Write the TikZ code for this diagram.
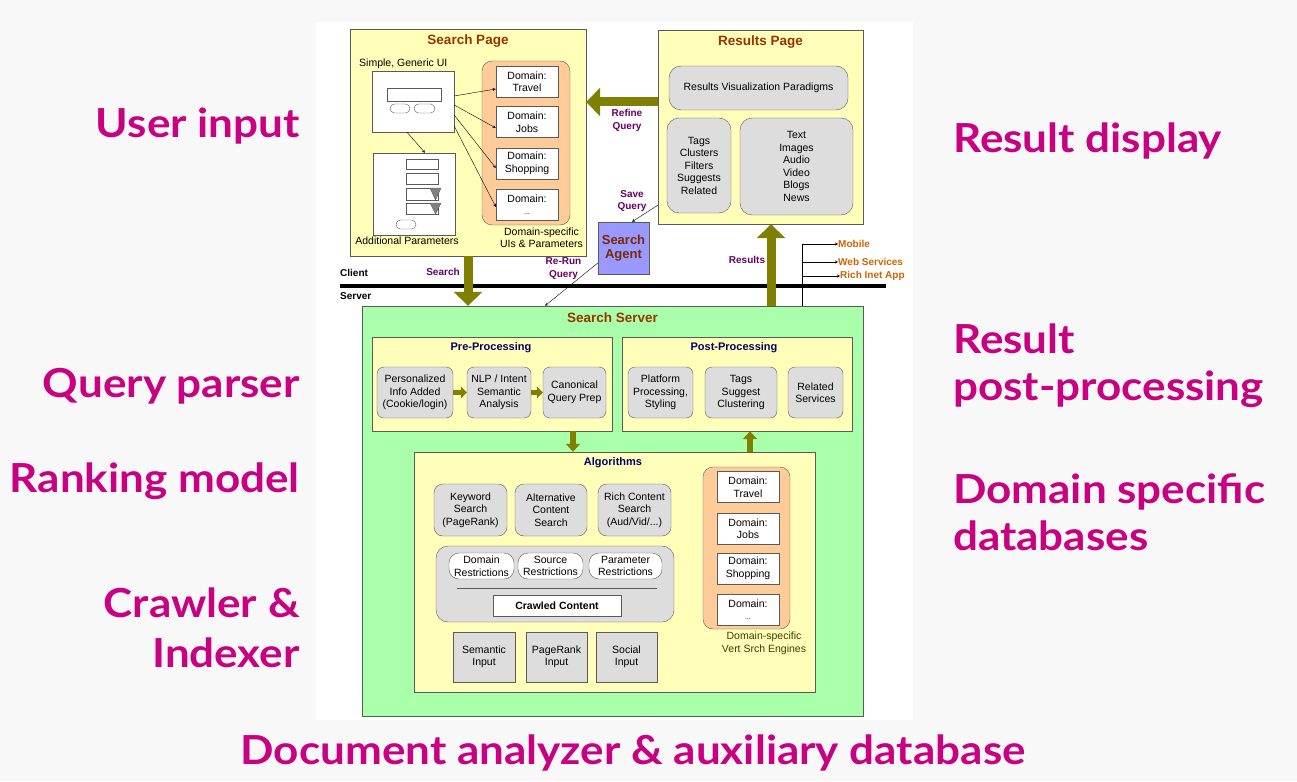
\documentclass[tikz,border=0pt]{standalone}
\usepackage{fontspec}
\setmainfont{Liberation Sans}
\newfontfamily\labelfont{Lato}[FakeStretch=1.1]
\usepackage{tikz}
\usetikzlibrary{arrows.meta}
\definecolor{pagegrey}{RGB}{248,248,248}
\definecolor{paleyellow}{RGB}{255,255,185}
\definecolor{paleorange}{RGB}{255,204,153}
\definecolor{boxgrey}{RGB}{221,221,221}
\definecolor{servergreen}{RGB}{170,255,170}
\definecolor{agentblue}{RGB}{153,153,255}
\definecolor{olivearrow}{RGB}{128,128,0}
\definecolor{titlered}{RGB}{153,51,0}
\definecolor{navy}{RGB}{0,0,102}
\definecolor{notepurple}{RGB}{102,0,102}
\definecolor{outorange}{RGB}{204,102,0}
\definecolor{engineolive}{RGB}{60,60,0}
\definecolor{framegrey}{RGB}{90,90,90}
\definecolor{bigmagenta}{RGB}{200,0,130}
\newcommand\boxfont{\fontsize{10.5}{12.5}\selectfont}
\tikzset{
	panel/.style={draw=framegrey, fill=paleyellow, inner sep=0pt},
	roundbox/.style={draw=framegrey, fill=boxgrey, rounded corners=7pt, align=center, font=\boxfont, inner sep=0pt},
	greybox/.style={draw=framegrey, fill=boxgrey, align=center, font=\boxfont, inner sep=0pt},
	whitebox/.style={draw=framegrey, fill=white, align=center, font=\boxfont, inner sep=0pt},
	boxtitle/.style={font=\fontsize{13.5}{15}\selectfont\bfseries, text=titlered},
	subtitle/.style={font=\fontsize{11}{13}\selectfont\bfseries, text=navy},
	flowlabel/.style={font=\fontsize{10}{12.5}\selectfont\bfseries, text=notepurple, align=center},
	outlabel/.style={font=\fontsize{10}{12}\selectfont\bfseries, text=outorange, anchor=west, inner sep=0pt},
	bigword/.style={font=\labelfont\fontsize{40}{48}\selectfont\bfseries, text=bigmagenta, inner sep=0pt},
	fat/.style={draw=olivearrow, line width=9pt, -{Triangle[width=28pt,length=14pt]}},
	slim/.style={draw=olivearrow, line width=6pt, -{Triangle[width=14pt,length=8pt]}},
	thinarrow/.style={->, >=stealth, thin}
}
\begin{document}
\begin{tikzpicture}[x=1pt,y=-1pt]
	\fill[pagegrey] (0,0) rectangle (1297,781);
	\fill[white] (316,22) rectangle (913,720);
	\useasboundingbox (0,0) rectangle (1297,781);

	%search page (client side)
	\node[panel, minimum width=236pt, minimum height=227pt] (searchpage) at (468,142.5) {};
	\node[boxtitle] at (468,41) {Search Page};
	\node[font=\boxfont, anchor=west, inner sep=0pt] at (359,64) {Simple, Generic UI};
	\node[whitebox, minimum width=82pt, minimum height=61pt] (simpleui) at (413,101.5) {};
	\draw[framegrey] (387,88) rectangle (441,101);
	\draw[framegrey, rounded corners=4.5pt] (390,104) rectangle (410,113);
	\draw[framegrey, rounded corners=4.5pt] (414,104) rectangle (435,113);
	\node[whitebox, minimum width=82pt, minimum height=82pt] (addparams) at (414,194) {};
	\draw[framegrey] (406,159) rectangle (438,169);
	\draw[framegrey] (406,173) rectangle (438,184);
	\draw[framegrey] (406,188) rectangle (438,200);
	\draw[framegrey] (406,203) rectangle (438,214);
	\filldraw[fill=gray, draw=framegrey] (430,188) -- (441,188) -- (435.5,200) -- cycle;
	\filldraw[fill=gray, draw=framegrey] (430,203) -- (441,203) -- (435.5,214) -- cycle;
	\draw[framegrey, rounded corners=4.5pt] (396,220) rectangle (416,229);
	\node[font=\boxfont] at (407,241) {Additional Parameters};
	\node[draw=framegrey, fill=paleorange, rounded corners=10pt, minimum width=88pt, minimum height=164pt] (uiorange) at (526,143) {};
	\node[whitebox, minimum width=62pt, minimum height=31pt] (uiTravel) at (527,81.5) {Domain:\\Travel};
	\node[whitebox, minimum width=62pt, minimum height=31pt] (uiJobs) at (527,122) {Domain:\\Jobs};
	\node[whitebox, minimum width=62pt, minimum height=31pt] (uiShop) at (527,163.5) {Domain:\\Shopping};
	\node[whitebox, minimum width=62pt, minimum height=31pt] (uiMore) at (527,204.5) {Domain:\\{\fontsize{7}{8}\selectfont ...}};
	\node[font=\boxfont, align=center] at (541.5,237.5) {Domain-specific\\UIs \& Parameters};
	\draw[thinarrow] ([yshift=5.5pt]simpleui.east) -- ([yshift=-7.5pt]uiTravel.west);
	\draw[thinarrow] ([yshift=-3.5pt]simpleui.east) -- ([yshift=-6pt]uiJobs.west);
	\draw[thinarrow] ([yshift=-13.5pt]simpleui.east) -- ([yshift=-4.5pt]uiShop.west);
	\draw[thinarrow] ([yshift=-24.5pt]simpleui.east) -- ([yshift=-2.5pt]uiMore.west);
	\draw[thinarrow] ([xshift=-6pt]simpleui.south) -- ([xshift=11pt]addparams.north);

	%results page
	\node[panel, minimum width=205pt, minimum height=194pt] (resultspage) at (760.5,127) {};
	\node[boxtitle] at (760.5,42) {Results Page};
	\node[roundbox, rounded corners=12pt, minimum width=179pt, minimum height=44pt] (vizpar) at (758.5,88) {Results Visualization Paradigms};
	\node[roundbox, rounded corners=12pt, minimum width=64pt, minimum height=95pt] (tagsbox) at (699,165.5) {Tags\\Clusters\\Filters\\Suggests\\Related};
	\node[roundbox, rounded corners=12pt, minimum width=113pt, minimum height=97pt] (mediabox) at (796.5,166.5) {Text\\Images\\Audio\\Video\\Blogs\\News};

	%search agent
	\node[draw=framegrey, fill=agentblue, minimum width=51pt, minimum height=52pt, align=center,
		font=\fontsize{13}{14}\selectfont\bfseries, text=titlered!80!black] (agent) at (623.5,248) {Search\\Agent};

	%search server
	\node[draw=framegrey, fill=servergreen, minimum width=501pt, minimum height=410pt] (server) at (612.5,511) {};
	\node[boxtitle] at (612.5,318) {Search Server};

	\node[panel, minimum width=240pt, minimum height=94pt] (preproc) at (492,384) {};
	\node[subtitle] at (491,348) {Pre-Processing};
	\node[roundbox, minimum width=76pt, minimum height=51pt] (personal) at (415,392.5) {Personalized\\Info Added\\(Cookie/login)};
	\node[roundbox, minimum width=64pt, minimum height=51pt] (nlp) at (499,392.5) {NLP / Intent\\Semantic\\Analysis};
	\node[roundbox, minimum width=63pt, minimum height=51pt] (canon) at (574.5,392.5) {Canonical\\Query Prep};
	\draw[slim, line width=5pt, -{Triangle[width=12pt,length=6pt]}] (personal) -- (nlp);
	\draw[slim, line width=5pt, -{Triangle[width=12pt,length=6pt]}] (nlp) -- (canon);

	\node[panel, minimum width=230pt, minimum height=94pt] (postproc) at (737,384) {};
	\node[subtitle] at (734,348) {Post-Processing};
	\node[roundbox, minimum width=65pt, minimum height=51pt] (platform) at (660.5,392.5) {Platform\\Processing,\\Styling};
	\node[roundbox, minimum width=72pt, minimum height=51pt] (tagsug) at (741,392.5) {Tags\\Suggest\\Clustering};
	\node[roundbox, minimum width=55pt, minimum height=51pt] (related) at (815.5,392.5) {Related\\Services};

	\node[panel, minimum width=401pt, minimum height=240pt] (algos) at (614.5,572) {};
	\node[subtitle] at (613,463) {Algorithms};
	\node[roundbox, rounded corners=9pt, minimum width=73pt, minimum height=52pt] (keyword) at (470.5,510) {Keyword\\Search\\(PageRank)};
	\node[roundbox, rounded corners=9pt, minimum width=72pt, minimum height=52pt] (altsearch) at (551,510) {Alternative\\Content\\Search};
	\node[roundbox, rounded corners=9pt, minimum width=73pt, minimum height=52pt] (richsearch) at (634.5,510) {Rich Content\\Search\\(Aud/Vid/...)};
	\node[roundbox, rounded corners=12pt, minimum width=238pt, minimum height=76pt] (restrict) at (555,584) {};
	\node[whitebox, rounded corners=10pt, minimum width=65pt, minimum height=26pt] (domrestr) at (481.5,566) {Domain\\Restrictions};
	\node[whitebox, rounded corners=10pt, minimum width=65pt, minimum height=26pt] (srcrestr) at (550.5,566) {Source\\Restrictions};
	\node[whitebox, rounded corners=10pt, minimum width=73pt, minimum height=26pt] (parrestr) at (625.5,566) {Parameter\\Restrictions};
	\draw[framegrey] (457,588) -- (657,588);
	\node[whitebox, minimum width=128pt, minimum height=21pt, font=\boxfont\bfseries] (crawled) at (557,605.5) {Crawled Content};
	\node[greybox, minimum width=62pt, minimum height=50pt] (seminput) at (484,657) {Semantic\\Input};
	\node[greybox, minimum width=61pt, minimum height=50pt] (prinput) at (556.5,657) {PageRank\\Input};
	\node[greybox, minimum width=61pt, minimum height=50pt] (socinput) at (626.5,657) {Social\\Input};

	\node[draw=framegrey, fill=paleorange, rounded corners=10pt, minimum width=87pt, minimum height=162pt] (vsorange) at (746.5,548) {};
	\node[whitebox, minimum width=62pt, minimum height=31pt] (vsTravel) at (748,487) {Domain:\\Travel};
	\node[whitebox, minimum width=62pt, minimum height=31pt] (vsJobs) at (748,528.5) {Domain:\\Jobs};
	\node[whitebox, minimum width=62pt, minimum height=31pt] (vsShop) at (748,568.5) {Domain:\\Shopping};
	\node[whitebox, minimum width=62pt, minimum height=31pt] (vsMore) at (748,609.5) {Domain:\\{\fontsize{7}{8}\selectfont ...}};
	\node[font=\boxfont, text=engineolive, align=center] at (764,643.5) {Domain-specific\\Vert Srch Engines};

	%client / server split
	\coordinate (splitL) at (340,286);
	\coordinate (splitR) at (886,286);
	\draw[line width=4pt] (splitL) -- (splitR);
	\node[font=\fontsize{10}{12}\selectfont\bfseries, anchor=west, inner sep=0pt] (clientlbl) at (340,273) {Client};
	\node[font=\fontsize{10}{12}\selectfont\bfseries, anchor=west, inner sep=0pt] (serverlbl) at (340,296) {Server};

	%big arrows
	\coordinate (refineout) at (658,102);
	\coordinate (resultsup) at (771,306);
	\draw[fat] (searchpage.south) -- (searchpage.south |- server.north);
	\draw[fat] (resultsup) -- (resultsup |- resultspage.south);
	\draw[fat] (refineout) -- (refineout -| searchpage.east);
	\draw[slim] ([xshift=81pt]preproc.south) -- ([xshift=81pt]preproc.south |- algos.north);
	\draw[slim] ([xshift=13pt]postproc.south |- algos.north) -- ([xshift=13pt]postproc.south);

	\node[flowlabel] (searchlbl) at (443,272) {Search};
	\node[flowlabel] (resultslbl) at (747,260) {Results};
	\node[flowlabel] (refinelbl) at (627,120.5) {Refine\\Query};
	\node[flowlabel] (savelbl) at (632,201) {Save\\Query};
	\node[flowlabel] (rerunlbl) at (563.5,268.5) {Re-Run\\Query};

	%agent links
	\draw[thinarrow] ([yshift=19pt]resultspage.south west) -- ([xshift=8.5pt]agent.north);
	\draw[thinarrow] ([yshift=-15pt]agent.west) -- ([xshift=-67.5pt]server.north);

	%other clients
	\coordinate (forktop) at (802,244);
	\node[outlabel] (mobile) at (838,244) {Mobile};
	\node[outlabel] (websvc) at (838,262) {Web Services};
	\node[outlabel] (richapp) at (840,276) {Rich Inet App};
	\draw (forktop |- server.north) -- (forktop);
	\draw[thinarrow] (forktop) -- (mobile.west);
	\draw[thinarrow] (forktop |- websvc.west) -- (websvc.west);
	\draw[thinarrow] (forktop |- richapp.west) -- (richapp.west);

	%component names
	\node[bigword, anchor=base east] at (300,137) {User input};
	\node[bigword, anchor=base east] at (300,397) {Query parser};
	\node[bigword, anchor=base east] at (300,492) {Ranking model};
	\node[bigword, anchor=base east] at (300,617) {Crawler \&};
	\node[bigword, anchor=base east] at (300,667) {Indexer};
	\node[bigword, anchor=base west] at (953,152) {Result display};
	\node[bigword, anchor=base west] at (953,353) {Result};
	\node[bigword, anchor=base west] at (953,400) {post-processing};
	\node[bigword, anchor=base west] at (953,503) {Domain specific};
	\node[bigword, anchor=base west] at (953,550) {databases};
	\node[bigword, anchor=base] at (633,764) {Document analyzer \& auxiliary database};
\end{tikzpicture}
\end{document}
